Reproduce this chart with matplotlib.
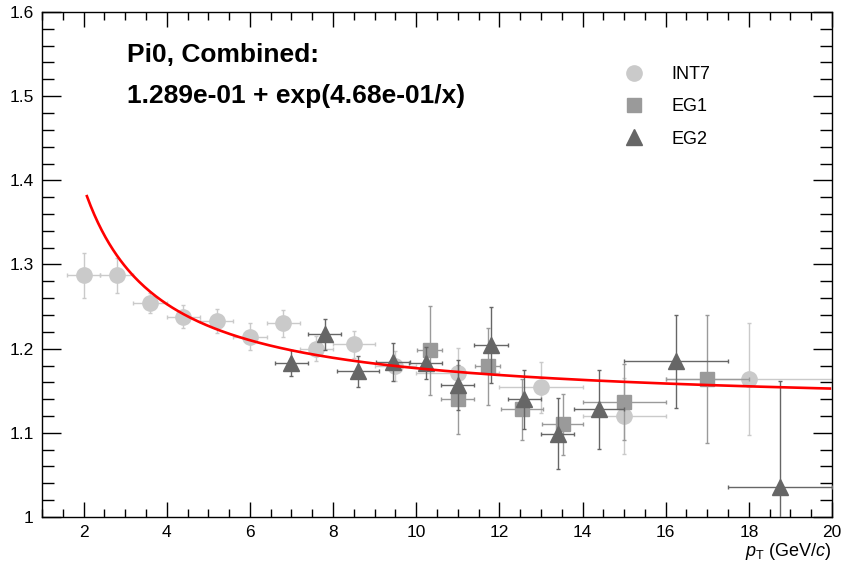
import matplotlib
matplotlib.use("Agg")
import matplotlib.pyplot as plt
import numpy as np
from matplotlib.lines import Line2D
from matplotlib.ticker import MultipleLocator, FormatStrFormatter

plt.rcParams['font.family'] = ['Liberation Sans', 'DejaVu Sans']
plt.rcParams['mathtext.fontset'] = 'custom'
plt.rcParams['mathtext.rm'] = 'Liberation Sans'
plt.rcParams['mathtext.it'] = 'Liberation Sans:italic'

# INT7
int7_x = [2.0, 2.8, 3.6, 4.4, 5.2, 6.0, 6.8, 7.6, 8.5, 9.5, 11.0, 13.0, 15.0, 18.0]
int7_y = [1.287, 1.287, 1.254, 1.238, 1.233, 1.214, 1.230, 1.200, 1.205, 1.179, 1.171, 1.154, 1.120, 1.164]
int7_xerr = [0.4, 0.4, 0.4, 0.4, 0.4, 0.4, 0.4, 0.4, 0.5, 0.5, 1.0, 1.0, 1.0, 2.0]
int7_yerr = [0.027, 0.021, 0.012, 0.014, 0.014, 0.016, 0.016, 0.015, 0.016, 0.018, 0.03, 0.03, 0.045, 0.067]

# EG1
eg1_x = [10.33, 11.0, 11.72, 12.55, 13.52, 15.0, 17.0]
eg1_y = [1.198, 1.140, 1.179, 1.128, 1.110, 1.137, 1.164]
eg1_xerr = [0.3, 0.4, 0.3, 0.5, 0.5, 1.0, 1.0]
eg1_yerr = [0.053, 0.041, 0.046, 0.036, 0.036, 0.045, 0.076]

# EG2
eg2_x = [7.0, 7.8, 8.6, 9.44, 10.23, 11.0, 11.8, 12.6, 13.4, 14.4, 16.25, 18.75]
eg2_y = [1.183, 1.217, 1.173, 1.184, 1.183, 1.157, 1.204, 1.140, 1.099, 1.128, 1.185, 1.036]
eg2_xerr = [0.4, 0.4, 0.5, 0.4, 0.4, 0.4, 0.4, 0.4, 0.4, 0.6, 1.25, 1.25]
eg2_yerr = [0.016, 0.018, 0.018, 0.023, 0.019, 0.03, 0.045, 0.035, 0.042, 0.047, 0.055, 0.125]

# fit parameters from the plot label
p0 = 1.289e-01
p1 = 4.68e-01
fit_range = (2.08, 19.95)

fig = plt.figure(figsize=(8.44, 5.61), dpi=100)
ax = fig.add_axes([42/844, 1 - 517/561, (832 - 42)/844, (517 - 12)/561])

c_int7, c_eg1, c_eg2 = '#cacaca', '#9a9a9a', '#666666'

ax.errorbar(int7_x, int7_y, xerr=int7_xerr, yerr=int7_yerr, fmt='o', color=c_int7,
            ms=11, elinewidth=1, capsize=1.5, zorder=2)
ax.errorbar(eg1_x, eg1_y, xerr=eg1_xerr, yerr=eg1_yerr, fmt='s', color=c_eg1,
            ms=10.5, elinewidth=1, capsize=1.5, zorder=3)
ax.errorbar(eg2_x, eg2_y, xerr=eg2_xerr, yerr=eg2_yerr, fmt='^', color=c_eg2,
            ms=11, elinewidth=1, capsize=1.5, zorder=4)

xf = np.linspace(fit_range[0], fit_range[1], 400)
ax.plot(xf, p0 + np.exp(p1 / xf), color='red', lw=1.9, zorder=5)

ax.set_xlim(1, 20)
ax.set_ylim(1, 1.6)
ax.xaxis.set_major_locator(MultipleLocator(2))
ax.xaxis.set_minor_locator(MultipleLocator(0.5))
ax.yaxis.set_major_locator(MultipleLocator(0.1))
ax.yaxis.set_minor_locator(MultipleLocator(0.02))
ax.yaxis.set_major_formatter(FormatStrFormatter('%g'))
ax.tick_params(which='both', direction='in', top=True, right=True, labelsize=12.5, width=1)
ax.tick_params(axis='x', which='major', length=11, pad=6)
ax.tick_params(axis='x', which='minor', length=5.5)
ax.tick_params(axis='y', which='major', length=14, pad=6)
ax.tick_params(axis='y', which='minor', length=8.5)
for s in ax.spines.values():
    s.set_linewidth(1)

ax.set_xlabel(r'$p_{\mathrm{T}}$ (GeV/$c$)', loc='right', fontsize=13, labelpad=0.5)

fig.text(127/844, 1 - 62/561, 'Pi0, Combined:', fontsize=19, weight='bold', va='baseline')
fig.text(127/844, 1 - 103/561, '%.3e + exp(%.2e/x)' % (p0, p1), fontsize=19,
         weight='bold', va='baseline')

handles = [Line2D([], [], ls='none', marker='o', ms=11, color=c_int7),
           Line2D([], [], ls='none', marker='s', ms=10.5, color=c_eg1),
           Line2D([], [], ls='none', marker='^', ms=11, color=c_eg2)]
fig.legend(handles, ['INT7', 'EG1', 'EG2'], loc='upper left',
           bbox_to_anchor=(616/844, 1 - 57/561), frameon=False, fontsize=13,
           handlelength=1.0, handletextpad=1.58, labelspacing=0.85, borderpad=0)

fig.savefig('out.png', dpi=100)
